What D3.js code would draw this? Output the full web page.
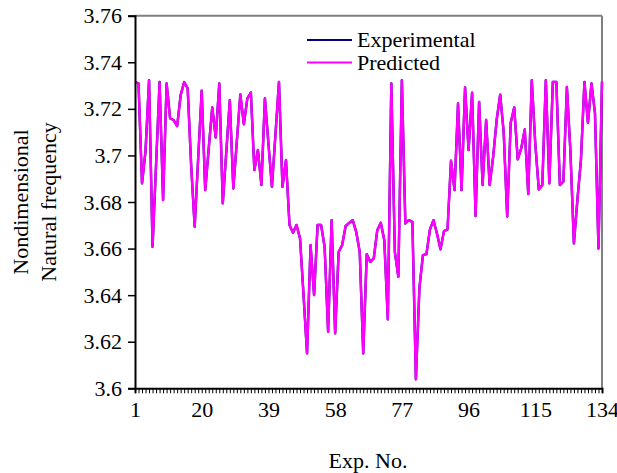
<!DOCTYPE html>
<html>
<head>
<meta charset="utf-8">
<script src="https://cdn.jsdelivr.net/npm/d3@7"></script>
<style>
  html, body { margin: 0; padding: 0; background: #fff; }
  svg { display: block; }
  text { font-family: "Liberation Serif", "Times New Roman", serif; fill: #000; }
</style>
</head>
<body>
<svg id="chart" width="617" height="473"></svg>
<script>
// ---- data ----
const expNo = d3.range(1, 135);
const experimental = [
  3.7315, 3.7309, 3.688, 3.702, 3.7323, 3.6608, 3.696, 3.7315, 3.6808, 3.7309,
  3.7159, 3.7152, 3.7126, 3.7259, 3.7315, 3.7288, 3.6955, 3.6694, 3.699, 3.7278,
  3.6851, 3.703, 3.7206, 3.7077, 3.7309, 3.6794, 3.7015, 3.7237, 3.6858, 3.706,
  3.7262, 3.7134, 3.7245, 3.727, 3.6937, 3.7023, 3.6873, 3.7245, 3.705, 3.6865,
  3.709, 3.7316, 3.6865, 3.698, 3.6701, 3.6668, 3.6701, 3.6644, 3.64, 3.615,
  3.6615, 3.64, 3.6701, 3.6701, 3.6608, 3.6243, 3.6722, 3.6236, 3.6586, 3.6615,
  3.6697, 3.671, 3.6722, 3.6672, 3.6586, 3.615, 3.6576, 3.6543, 3.6558, 3.6679,
  3.6711, 3.6636, 3.6296, 3.7309, 3.6586, 3.6479, 3.7323, 3.6708, 3.6722, 3.6715,
  3.6039, 3.643, 3.6572, 3.6576, 3.6682, 3.6722, 3.6665, 3.6597, 3.6675, 3.6682,
  3.6977, 3.6851, 3.7223, 3.6851, 3.7292, 3.7023, 3.7269, 3.674, 3.723, 3.6873,
  3.7152, 3.6873, 3.6994, 3.7152, 3.7261, 3.71, 3.6738, 3.714, 3.7206, 3.6983,
  3.703, 3.7112, 3.6834, 3.7323, 3.705, 3.6854, 3.6873, 3.7323, 3.688, 3.7316,
  3.7316, 3.6873, 3.6887, 3.7294, 3.702, 3.6622, 3.681, 3.698, 3.7316, 3.714,
  3.7309, 3.7182, 3.66, 3.7316
];
const predicted = [
  3.7315, 3.7309, 3.688, 3.702, 3.7323, 3.6608, 3.696, 3.7315, 3.6808, 3.7309,
  3.7159, 3.7152, 3.7126, 3.7259, 3.7315, 3.7288, 3.6955, 3.6694, 3.699, 3.7278,
  3.6851, 3.703, 3.7206, 3.7077, 3.7309, 3.6794, 3.7015, 3.7237, 3.6858, 3.706,
  3.7262, 3.7134, 3.7245, 3.727, 3.6937, 3.7023, 3.6873, 3.7245, 3.705, 3.6865,
  3.709, 3.7316, 3.6865, 3.698, 3.6701, 3.6668, 3.6701, 3.6644, 3.64, 3.615,
  3.6615, 3.64, 3.6701, 3.6701, 3.6608, 3.6243, 3.6722, 3.6236, 3.6586, 3.6615,
  3.6697, 3.671, 3.6722, 3.6672, 3.6586, 3.615, 3.6576, 3.6543, 3.6558, 3.6679,
  3.6711, 3.6636, 3.6296, 3.7309, 3.6586, 3.6479, 3.7323, 3.6708, 3.6722, 3.6715,
  3.6039, 3.643, 3.6572, 3.6576, 3.6682, 3.6722, 3.6665, 3.6597, 3.6675, 3.6682,
  3.6977, 3.6851, 3.7223, 3.6851, 3.7292, 3.7023, 3.7269, 3.674, 3.723, 3.6873,
  3.7152, 3.6873, 3.6994, 3.7152, 3.7261, 3.71, 3.6738, 3.714, 3.7206, 3.6983,
  3.703, 3.7112, 3.6834, 3.7323, 3.705, 3.6854, 3.6873, 3.7323, 3.688, 3.7316,
  3.7316, 3.6873, 3.6887, 3.7294, 3.702, 3.6622, 3.681, 3.698, 3.7316, 3.714,
  3.7309, 3.7182, 3.66, 3.7316
];
const seriesNames = ["Experimental", "Predicted"];
const seriesColors = ["#000080", "#FF00FF"];
const yTickValues = [3.6, 3.62, 3.64, 3.66, 3.68, 3.7, 3.72, 3.74, 3.76];
const xTickLabels = [1, 20, 39, 58, 77, 96, 115, 134];
const xTitle = "Exp. No.";
const yTitleLines = ["Nondimensional", "Natural frequency"];

// ---- layout ----
const svg = d3.select("#chart");
const pLeft = 135, pRight = 602, pTop = 15.7, pBottom = 388.3;
const FS = 22;

const x = d3.scaleLinear().domain([1, 134]).range([pLeft, pRight]);
const y = d3.scaleLinear().domain([3.6, 3.76]).range([pBottom, pTop]);

// plot-area border (top & right)
svg.append("line").attr("x1", pLeft).attr("x2", pRight).attr("y1", pTop).attr("y2", pTop)
  .attr("stroke", "#808080").attr("stroke-width", 2);
svg.append("line").attr("x1", pRight).attr("x2", pRight).attr("y1", pTop).attr("y2", pBottom)
  .attr("stroke", "#808080").attr("stroke-width", 2);

// series lines
const series = [experimental, predicted];
series.forEach((vals, k) => {
  const line = d3.line().x((d, i) => x(expNo[i])).y(d => y(d));
  svg.append("path").datum(vals)
    .attr("d", line)
    .attr("fill", "none")
    .attr("stroke", seriesColors[k])
    .attr("stroke-width", 2.4)
    .attr("stroke-linejoin", "round");
});

// y axis
const yAxis = d3.axisLeft(y).tickValues(yTickValues).tickSize(7).tickPadding(6)
  .tickFormat(d => String(+d.toFixed(2)));
const gy = svg.append("g").attr("transform", `translate(${pLeft},0)`).call(yAxis);
gy.select(".domain").attr("stroke", "#000").attr("stroke-width", 2);
gy.selectAll(".tick line").attr("stroke", "#000").attr("stroke-width", 1.5);
gy.selectAll(".tick text").style("font-size", FS + "px")
  .style("font-family", '"Liberation Serif", "Times New Roman", serif');

// x axis
const xAxis = d3.axisBottom(x).tickValues(expNo).tickSize(5).tickPadding(8)
  .tickFormat(d => xTickLabels.includes(d) ? String(d) : "");
const gx = svg.append("g").attr("transform", `translate(0,${pBottom})`).call(xAxis);
gx.select(".domain").attr("stroke", "#000").attr("stroke-width", 2);
gx.selectAll(".tick line").attr("stroke", "#000").attr("stroke-width", 1);
gx.selectAll(".tick text").style("font-size", FS + "px")
  .style("font-family", '"Liberation Serif", "Times New Roman", serif');

// axis titles
svg.append("text").attr("x", 368).attr("y", 468).attr("text-anchor", "middle")
  .style("font-size", FS + "px").text(xTitle);
const yMid = (pTop + pBottom) / 2;
[20, 48].forEach((cx, i) => {
  svg.append("text")
    .attr("transform", `translate(${cx},${yMid}) rotate(-90)`)
    .attr("text-anchor", "middle").attr("dominant-baseline", "central")
    .style("font-size", FS + "px").text(yTitleLines[i]);
});

// legend
const legend = svg.append("g");
seriesNames.forEach((name, k) => {
  const ly = 40 + k * 22.5;
  legend.append("line").attr("x1", 307).attr("x2", 352).attr("y1", ly).attr("y2", ly)
    .attr("stroke", seriesColors[k]).attr("stroke-width", 2);
  legend.append("text").attr("x", 357).attr("y", ly + 7)
    .style("font-size", FS + "px").text(name);
});
</script>
</body>
</html>
